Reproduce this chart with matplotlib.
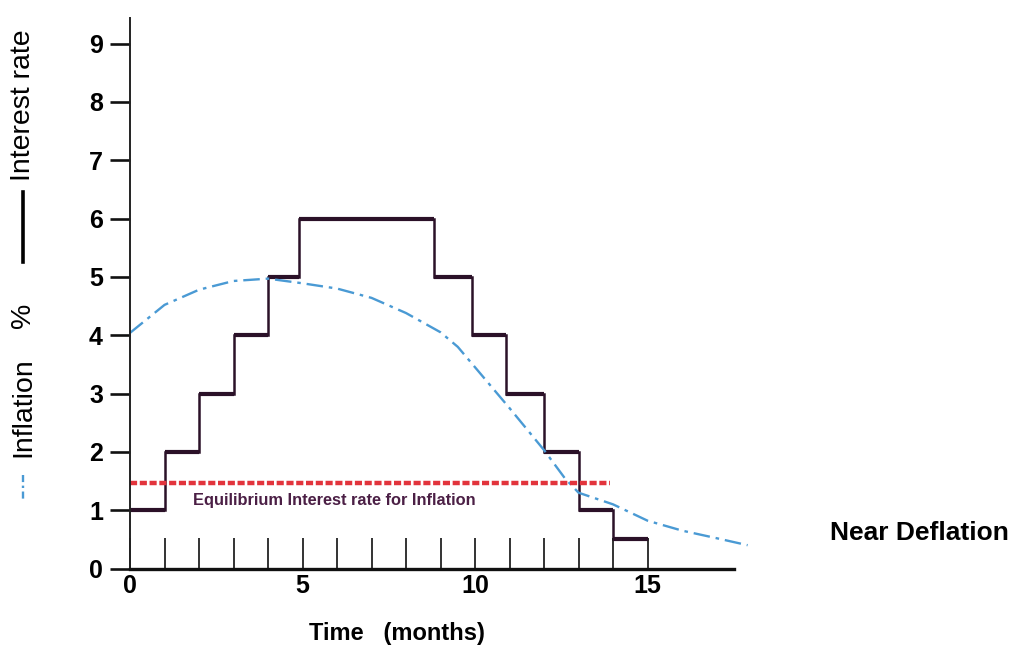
import matplotlib
matplotlib.use('Agg')
import matplotlib.pyplot as plt
from matplotlib.lines import Line2D
import numpy as np

plt.rcParams['font.family'] = ['Liberation Sans', 'DejaVu Sans']

# Interest rate (step function): edges in months, level per step in %
rate_edges = [0, 1, 2, 3, 4, 4.9, 8.8, 9.9, 10.9, 12, 13, 14, 15]
rate_levels = [1, 2, 3, 4, 5, 6, 5, 4, 3, 2, 1, 0.5]

# Inflation
infl_x = [0, 1, 2, 3, 4, 5, 6, 7, 8, 9, 9.5, 10, 11, 12, 12.6, 13, 14, 15, 16, 17, 17.9]
infl_y = [4.04, 4.52, 4.78, 4.93, 4.97, 4.89, 4.80, 4.64, 4.38, 4.05, 3.8, 3.45,
          2.75, 2.03, 1.55, 1.3, 1.1, 0.82, 0.65, 0.52, 0.40]

# Equilibrium interest rate
eq_level = 1.47
eq_end = 13.9

y_ticks = list(range(0, 10))
x_major = [0, 5, 10, 15]
x_minor = [1, 2, 3, 4, 6, 7, 8, 9, 11, 12, 13, 14]

fig = plt.figure(figsize=(10.11, 6.49), dpi=100)
ax = fig.add_axes([0.1286, 0.124, 0.6143, 0.8475])

# step line: thick flats, thinner risers
ax.stairs(rate_levels, rate_edges, baseline=None, color='#2b1128', lw=1.8)
ax.hlines(rate_levels, rate_edges[:-1], rate_edges[1:], color='#2b1128', lw=3)

ax.plot(infl_x, infl_y, color='#4a9ad4', lw=1.7, ls=(0, (7, 2.5, 1.5, 2.5)),
        clip_on=False)

ax.hlines(eq_level, 0, eq_end, color='#e2343c', lw=3.2, ls=(0, (1.6, 0.6)))
ax.text(1.83, 1.17, 'Equilibrium Interest rate for Inflation', color='#4b1f45',
        fontsize=11.8, fontweight='bold', va='center', ha='left')

ax.set_xlim(0, 18)
ax.set_ylim(0, 9.43)

for s in ['top', 'right']:
    ax.spines[s].set_visible(False)
ax.spines['bottom'].set_bounds(0, 17.5)
ax.spines['bottom'].set_linewidth(2.4)
ax.spines['left'].set_linewidth(1.4)
ax.spines['bottom'].set_color('#111111')
ax.spines['left'].set_color('#222222')

ax.set_yticks(y_ticks)
ax.set_yticklabels([str(v) for v in y_ticks], fontsize=18, fontweight='bold')
ax.tick_params(axis='y', direction='out', length=14.5, width=1.9, pad=5,
               color='#111111')

ax.set_xticks(x_major)
ax.set_xticks(x_minor, minor=True)
ax.set_xticklabels([str(v) for v in x_major], fontsize=18, fontweight='bold')
ax.tick_params(axis='x', which='both', direction='in', length=22, width=1.2,
               pad=4, color='#111111')

# axis titles
ax.text(7.74, -1.12, 'Time   (months)', fontsize=17, fontweight='bold',
        ha='center', va='center')
fig.text(830 / 1011, 1 - 533 / 649, 'Near Deflation', fontsize=19,
         fontweight='bold', ha='left', va='center')

# composite y label on the left
fx = 23 / 1011
fig.text(fx, 1 - 105 / 649, 'Interest rate', rotation=90, fontsize=20.5,
         ha='center', va='center')
fig.add_artist(Line2D([fx, fx], [1 - 192 / 649, 1 - 262 / 649], color='black',
                      lw=2.6, transform=fig.transFigure))
fig.text(fx, 1 - 315 / 649, '%', rotation=90, fontsize=20.5,
         ha='center', va='center')
fig.text(fx, 1 - 407 / 649, 'Inflation', rotation=90, fontsize=20.5,
         ha='center', va='center')
fig.add_artist(Line2D([fx, fx], [1 - 475 / 649, 1 - 502 / 649], color='#4a9ad4',
                      lw=1.7, ls=(0, (3, 1.5, 1, 1.5)),
                      transform=fig.transFigure))

fig.savefig('out.png', dpi=100)
